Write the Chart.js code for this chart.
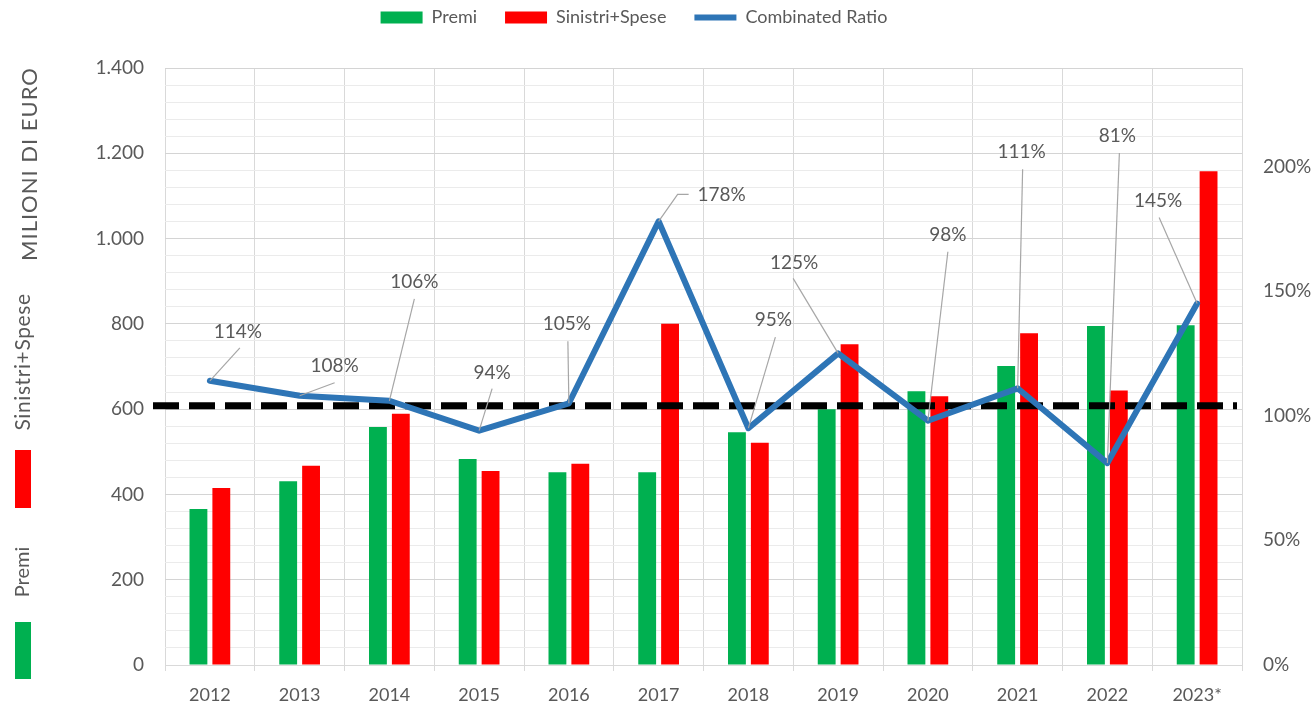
<!DOCTYPE html>
<html>
<head>
<meta charset="utf-8">
<script src="https://cdn.jsdelivr.net/npm/chart.js@4.4.0/dist/chart.umd.min.js"></script>
<style>
  html, body { margin: 0; padding: 0; background: #fff; }
</style>
</head>
<body>
<canvas id="chart" width="1315" height="706"></canvas>
<script>
const years = ['2012', '2013', '2014', '2015', '2016', '2017', '2018', '2019', '2020', '2021', '2022', '2023*'];
const premi = [366, 431, 558, 483, 452, 452, 546, 600, 642, 701, 795, 797];
const sinistriSpese = [415, 467, 589, 455, 472, 800, 521, 752, 630, 778, 644, 1158];
const combinedRatio = [114, 108, 106, 94, 105, 178, 95, 125, 98, 111, 81, 145];
const ratioThreshold = 104; // linea tratteggiata, asse destro
const ratioTicks = [0, 50, 100, 150, 200];

// text centre offset from its point, leader start offset from text centre (kx = elbow)
const labelSpots = [
    { dx: 28, dy: -49, lx: 2, ly: 16 },
    { dx: 35, dy: -30, lx: 0, ly: 17 },
    { dx: 25, dy: -119, lx: 0, ly: 17 },
    { dx: 13, dy: -58, lx: 0, ly: 16 },
    { dx: -2, dy: -79, lx: 1, ly: 17 },
    { dx: 63, dy: -26, lx: -33, ly: -1, kx: -44 },
    { dx: 25, dy: -108, lx: 2, ly: 17 },
    { dx: -44, dy: -91, lx: -1, ly: 16 },
    { dx: 20, dy: -186, lx: 0, ly: 17 },
    { dx: 4, dy: -236, lx: 1, ly: 17 },
    { dx: 10, dy: -327, lx: 2, ly: 17 },
    { dx: -39, dy: -103, lx: 1, ly: 17 }
];

const textGray = '#595959';
Chart.defaults.font.family = 'Lato';
Chart.defaults.color = textGray;

function formatEuro(v) {
    return String(v).replace(/\B(?=(\d{3})+(?!\d))/g, '.');
}

const extras = {
    id: 'extras',
    beforeDatasetDraw(chart, args) {
        if (args.index !== 2) return;
        const { ctx, chartArea } = chart;
        const y = chart.scales.yRatio.getPixelForValue(ratioThreshold);
        ctx.save();
        ctx.strokeStyle = '#000';
        ctx.lineWidth = 7;
        ctx.setLineDash([26, 10]);
        ctx.beginPath();
        ctx.moveTo(chartArea.left - 12, y);
        ctx.lineTo(chartArea.right - 5, y);
        ctx.stroke();
        ctx.restore();
    },
    afterDatasetsDraw(chart) {
        const ctx = chart.ctx;
        const points = chart.getDatasetMeta(2).data;
        ctx.save();
        ctx.font = '19px Lato';
        ctx.textAlign = 'center';
        ctx.textBaseline = 'middle';
        points.forEach((pt, i) => {
            const s = labelSpots[i];
            const tx = pt.x + s.dx;
            const ty = pt.y + s.dy;
            ctx.strokeStyle = '#a6a6a6';
            ctx.lineWidth = 1.2;
            ctx.beginPath();
            ctx.moveTo(tx + s.lx, ty + s.ly);
            if (s.kx !== undefined) ctx.lineTo(tx + s.kx, ty + s.ly);
            ctx.lineTo(pt.x, pt.y);
            ctx.stroke();
            ctx.fillStyle = textGray;
            ctx.fillText(combinedRatio[i] + '%', tx, ty);
        });
        ctx.restore();
    },
    afterDraw(chart) {
        const ctx = chart.ctx;
        ctx.save();
        ctx.fillStyle = textGray;
        ctx.textAlign = 'center';
        ctx.textBaseline = 'middle';
        const vText = (txt, x, y, size, spacing) => {
            ctx.save();
            ctx.translate(x, y);
            ctx.rotate(-Math.PI / 2);
            ctx.font = size + 'px Lato';
            ctx.letterSpacing = spacing + 'px';
            ctx.fillText(txt, 0, 0);
            ctx.restore();
        };
        vText('MILIONI DI EURO', 30, 164, 22, 1);
        vText('Sinistri+Spese', 23, 362, 21, 0.6);
        vText('Premi', 23, 572, 20, 0);
        ctx.fillStyle = '#ff0000';
        ctx.fillRect(15, 450, 16, 58);
        ctx.fillStyle = '#00b050';
        ctx.fillRect(15, 622, 16, 57);
        ctx.restore();
    }
};

new Chart(document.getElementById('chart'), {
    type: 'bar',
    data: {
        labels: years,
        datasets: [{
            label: 'Premi',
            data: premi,
            backgroundColor: '#00b050',
            pointStyle: 'rect',
            order: 1,
            yAxisID: 'y',
            barPercentage: 0.78,
            categoryPercentage: 0.51
        }, {
            label: 'Sinistri+Spese',
            data: sinistriSpese,
            backgroundColor: '#ff0000',
            pointStyle: 'rect',
            order: 1,
            yAxisID: 'y',
            barPercentage: 0.78,
            categoryPercentage: 0.51
        }, {
            type: 'line',
            label: 'Combinated Ratio',
            data: combinedRatio,
            borderColor: '#2e75b6',
            backgroundColor: '#2e75b6',
            borderWidth: 6,
            borderCapStyle: 'round',
            borderJoinStyle: 'round',
            pointRadius: 0,
            pointStyle: 'line',
            fill: false,
            tension: 0,
            order: 0,
            yAxisID: 'yRatio'
        }]
    },
    options: {
        responsive: false,
        animation: false,
        layout: { padding: { top: -19.5, right: 0, left: -47, bottom: 0 } },
        plugins: {
            legend: {
                position: 'top',
                labels: {
                    usePointStyle: true,
                    pointStyleWidth: 42,
                    boxWidth: 42,
                    boxHeight: 12,
                    padding: 28,
                    color: textGray,
                    font: { size: 18 },
                    sort: (a, b) => a.datasetIndex - b.datasetIndex
                }
            },
            // empty spacer between legend and plot
            title: {
                display: true,
                text: '',
                weight: 500,
                padding: 0,
                font: { size: 26.25, lineHeight: 1.2 }
            },
            tooltip: { enabled: false }
        },
        scales: {
            x: {
                offset: true,
                grid: { offset: true, color: '#d9d9d9', tickLength: 6, drawTicks: true },
                border: { color: '#d9d9d9' },
                ticks: { color: textGray, font: { size: 18 }, padding: 13, maxRotation: 0 },
                afterFit(scale) { scale.height = 41; }
            },
            y: {
                position: 'left',
                min: 0,
                max: 1400,
                ticks: {
                    stepSize: 40,
                    autoSkip: false,
                    padding: 21,
                    color: textGray,
                    font: { size: 19 },
                    callback: v => (v % 200 === 0 ? formatEuro(v) : '')
                },
                grid: {
                    drawTicks: false,
                    color: c => (c.tick.value % 200 === 0 ? '#d4d4d4' : '#ebebeb')
                },
                border: { display: false },
                afterFit(scale) { scale.width = 212; }
            },
            yRatio: {
                position: 'right',
                min: 0,
                max: 239.5,
                afterBuildTicks(scale) { scale.ticks = ratioTicks.map(v => ({ value: v })); },
                ticks: { padding: 21, color: textGray, font: { size: 19 }, callback: v => v + '%' },
                grid: { display: false, drawTicks: false },
                border: { display: false },
                afterFit(scale) { scale.width = 73; }
            }
        }
    },
    plugins: [extras]
});
</script>
</body>
</html>
